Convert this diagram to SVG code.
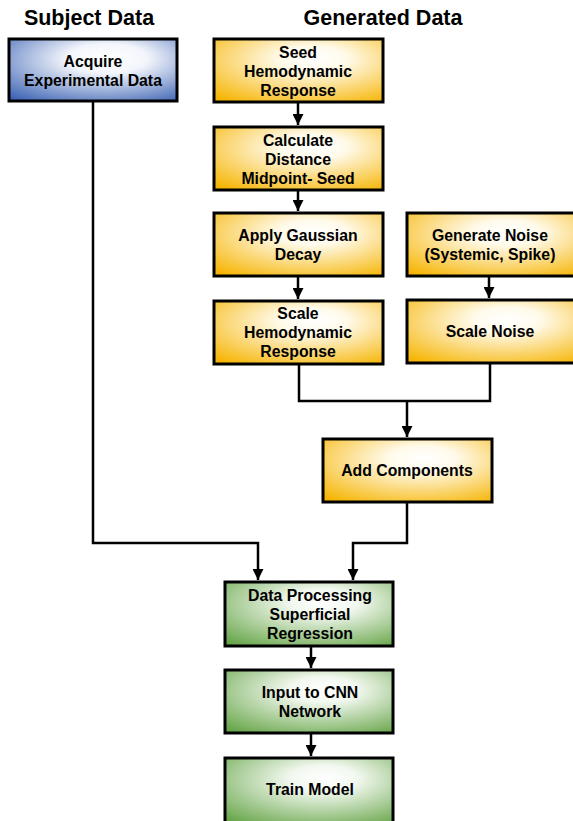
<svg xmlns="http://www.w3.org/2000/svg" width="573" height="821" viewBox="0 0 573 821">
<defs>
<radialGradient id="gb" cx="0.55" cy="0.35" r="0.8" fx="0.6" fy="0.3">
<stop offset="0" stop-color="#ffffff"/><stop offset="0.3" stop-color="#f2f5fb"/><stop offset="1" stop-color="#3d64b4"/>
</radialGradient>
<radialGradient id="gy" cx="0.55" cy="0.35" r="0.8" fx="0.6" fy="0.3">
<stop offset="0" stop-color="#ffffff"/><stop offset="0.25" stop-color="#fffaea"/><stop offset="1" stop-color="#f6b400"/>
</radialGradient>
<radialGradient id="gg" cx="0.55" cy="0.35" r="0.8" fx="0.6" fy="0.3">
<stop offset="0" stop-color="#ffffff"/><stop offset="0.25" stop-color="#f2f8ef"/><stop offset="1" stop-color="#66a548"/>
</radialGradient>
<marker id="ah" viewBox="0 0 10 10" refX="10" refY="5" markerWidth="11" markerHeight="11" markerUnits="userSpaceOnUse" orient="auto">
<path d="M0,0 L10,5 L0,10 z" fill="#000"/>
</marker>
<style>
.b{stroke:#000;stroke-width:3}
.t{font-family:"Liberation Sans",Arial,sans-serif;font-weight:bold;font-size:15.8px;fill:#000;text-anchor:middle}
.h{font-family:"Liberation Sans",Arial,sans-serif;font-weight:bold;font-size:21.5px;fill:#000;text-anchor:middle}
.c{fill:none;stroke:#000;stroke-width:2.5}
</style>
</defs>
<text class="h" x="89" y="25">Subject Data</text>
<text class="h" x="383" y="25">Generated Data</text>
<g id="connectors">
<path class="c" d="M93,101 V543 H258 V580" marker-end="url(#ah)"/>
<path class="c" d="M298,102 V125" marker-end="url(#ah)"/>
<path class="c" d="M298,190 V211" marker-end="url(#ah)"/>
<path class="c" d="M298,276 V299" marker-end="url(#ah)"/>
<path class="c" d="M489,276 V298" marker-end="url(#ah)"/>
<path class="c" d="M299,364 V401 H490 V363"/>
<path class="c" d="M407,401 V437" marker-end="url(#ah)"/>
<path class="c" d="M407,502 V543 H353 V580" marker-end="url(#ah)"/>
<path class="c" d="M311,646 V668" marker-end="url(#ah)"/>
<path class="c" d="M311,733 V756" marker-end="url(#ah)"/>
</g>
<g id="acquire"><rect class="b" x="9" y="39" width="168" height="62" fill="url(#gb)"/>
<text class="t" x="93" y="67">Acquire</text><text class="t" x="93" y="86">Experimental Data</text></g>
<g id="seed"><rect class="b" x="214" y="39" width="169" height="63" fill="url(#gy)"/>
<text class="t" x="298" y="58">Seed</text><text class="t" x="298" y="77">Hemodynamic</text><text class="t" x="298" y="96">Response</text></g>
<g id="calc"><rect class="b" x="214" y="127" width="169" height="63" fill="url(#gy)"/>
<text class="t" x="298" y="146">Calculate</text><text class="t" x="298" y="165">Distance</text><text class="t" x="298" y="184">Midpoint- Seed</text></g>
<g id="gauss"><rect class="b" x="214" y="213" width="169" height="63" fill="url(#gy)"/>
<text class="t" x="298" y="241">Apply Gaussian</text><text class="t" x="298" y="260">Decay</text></g>
<g id="gennoise"><rect class="b" x="407" y="213" width="170" height="63" fill="url(#gy)"/>
<text class="t" x="490" y="241">Generate Noise</text><text class="t" x="490" y="260">(Systemic, Spike)</text></g>
<g id="scalehemo"><rect class="b" x="214" y="301" width="169" height="63" fill="url(#gy)"/>
<text class="t" x="298" y="319">Scale</text><text class="t" x="298" y="338">Hemodynamic</text><text class="t" x="298" y="357">Response</text></g>
<g id="scalenoise"><rect class="b" x="407" y="300" width="170" height="63" fill="url(#gy)"/>
<text class="t" x="490" y="337">Scale Noise</text></g>
<g id="add"><rect class="b" x="323" y="439" width="169" height="63" fill="url(#gy)"/>
<text class="t" x="407" y="476">Add Components</text></g>
<g id="dataproc"><rect class="b" x="225" y="582" width="168" height="64" fill="url(#gg)"/>
<text class="t" x="310" y="601">Data Processing</text><text class="t" x="310" y="620">Superficial</text><text class="t" x="310" y="639">Regression</text></g>
<g id="cnn"><rect class="b" x="225" y="670" width="168" height="63" fill="url(#gg)"/>
<text class="t" x="310" y="698">Input to CNN</text><text class="t" x="310" y="717">Network</text></g>
<g id="train"><rect class="b" x="225" y="758" width="168" height="66" fill="url(#gg)"/>
<text class="t" x="310" y="795">Train Model</text></g>
</svg>
